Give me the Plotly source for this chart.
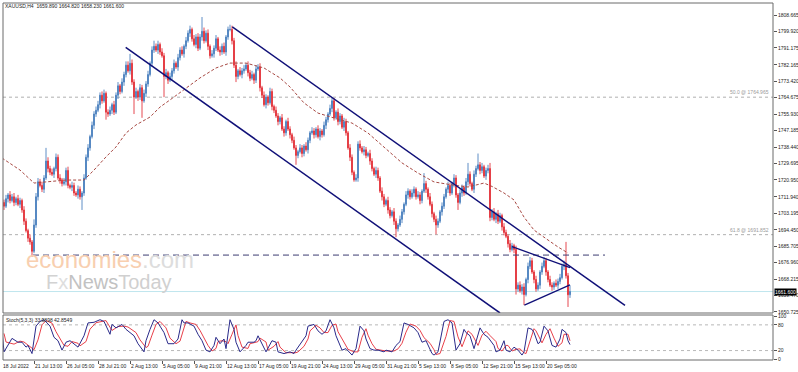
import plotly.graph_objects as go

# ---------------- data ----------------
first_open = 1710
closes = [
    1709,1707,1711,1713,1710,1712,1709,1711,1708,1710,1705,1699,1694,1690,1688,1683,1697,1712,1720,1718,
    1716,1722,1731,1727,1725,1724,1727,1733,1722,1721,1719,1720,1726,1718,1717,1718,1714,1713,1716,1712,
    1714,1722,1733,1738,1744,1750,1756,1758,1761,1766,1763,1767,1757,1756,1758,1761,1757,1766,1771,1768,
    1773,1777,1782,1779,1783,1773,1765,1768,1765,1770,1763,1767,1772,1777,1783,1790,1792,1790,1793,1789,
    1787,1776,1778,1774,1776,1779,1783,1781,1786,1790,1788,1792,1795,1799,1801,1796,1793,1797,1791,1797,
    1800,1795,1799,1792,1787,1788,1791,1796,1790,1789,1792,1789,1797,1801,1801,1795,1782,1776,1779,1777,
    1779,1780,1782,1778,1775,1777,1774,1780,1781,1770,1766,1761,1765,1762,1768,1760,1758,1755,1752,1754,
    1748,1746,1752,1748,1745,1742,1738,1734,1736,1738,1735,1739,1737,1742,1746,1747,1745,1748,1744,1747,
    1745,1750,1753,1756,1759,1763,1754,1757,1752,1755,1749,1752,1746,1738,1733,1725,1721,1722,1740,1738,
    1736,1737,1734,1735,1731,1727,1724,1726,1722,1715,1712,1708,1710,1705,1702,1704,1699,1695,1697,1700,
    1704,1708,1713,1715,1712,1714,1716,1712,1713,1710,1715,1719,1716,1712,1708,1703,1700,1697,1699,1704,
    1707,1712,1716,1718,1714,1719,1722,1713,1709,1714,1717,1714,1720,1724,1719,1716,1724,1727,1729,1726,
    1728,1723,1726,1727,1701,1704,1700,1703,1699,1702,1696,1693,1691,1687,1684,1686,1684,1663,1665,1662,
    1664,1660,1668,1675,1678,1672,1668,1663,1665,1672,1675,1678,1672,1668,1665,1664,1666,1665,1667,1669,
    1675,1676,1670,1659.89,1661.6,
]
upper_wick = [
    2,1.5,2,1,2,1.5,2,1,2,1.5,1,2,1.5,1,2,1,3,2,2,1.5,
    2,1.5,7,2,1.5,2,1,2,1.5,2,1,2,1.5,2,1,2,1.5,1,2,1.5,
    1,2,1.5,2,1,2,1.5,2,2,1.5,2,2,1,1.5,2,1,2,1.5,2,1,
    2,1.5,2,2,5,2,1.5,2,1,2,1.5,2,1.5,2,1,2,3,1.5,2,1,
    2,1.5,2,1,2,1.5,2,1,2,1.5,2,1,2,1.5,2,1,2,1.5,2,1.5,
    7.6,2,1.5,2,1,2,1.5,2,1,2,1.5,2,1,1.5,2.5,2,1.5,2,1,2,
    1.5,2,1,2,1.5,2,1,2,1.5,2,1,2,1.5,1,2,1.5,1,2,1.5,1,
    2,1.5,1,2,1.5,1,2,1.5,1,2,1.5,1,2,1.5,1,2,1.5,1,2,1.5,
    1,2,1.5,1,2,2,1.5,1,2,1.5,1,2,1.5,1,2,1.5,1,2,1.5,2,
    1,2,1.5,1,2,1.5,1,2,1.5,1,2,1.5,1,2,1.5,1,2,1.5,1,2,
    1.5,1,2,1.5,1,2,1.5,1,2,1.5,1,5.6,1.5,1,2,1.5,1,2,1.5,1,
    2,1.5,1,2,1.5,1,2,1.5,1,2,1.5,1,2,6,1.5,1,2,1.5,6,1.5,
    2,1,1.5,2,3,1.5,2,1,2,1.5,1,2,1.5,1,2,1.5,1,2,1.5,2,
    1.5,2,1,2,2,1.5,1,2,1.5,1,2,2,1.5,1,2,1.5,1,2,1.5,2,
    1.5,2,12,1.5,3.22,
]
lower_wick = [
    1.5,2,1,2,1.5,1,2,1.5,1,2,1.5,2,1,2,1.5,3,1,1.5,2,1,
    1.5,2,1,2,1.5,1,2,1.5,1,2,1.5,1,2,1.5,1,2,1.5,1,2,1.5,
    7,1.5,1,2,1.5,1,2,1.5,1,2,1.5,1,4,1.5,1,2,1.5,1,2,1.5,
    1,2,1.5,1,2,1.5,9,1,2,1.5,9,1,2,1.5,1,2,1.5,1,2,1.5,
    1,11,1.5,2,1,2,1.5,1,2,1.5,1,2,1.5,1,2,1.5,1,2,1.5,1,
    2,1.5,1,2,1.5,1,2,1.5,1,2,1.5,1,2,1.5,1,2,1.5,3,1.5,1,
    2,1.5,1,2,1.5,1,2,1.5,1,2,1.5,1,2,1.5,1,2,1.5,1,2,1.5,
    1,2,1.5,1,2,1.5,1,5,1.5,1,2,1.5,1,2,1.5,1,2,1.5,1,2,
    1.5,1,2,1.5,1,2,1.5,1,2,1.5,1,2,1.5,1,2,1.5,1,1,2,1.5,
    1,2,1.5,1,2,1.5,1,2,1.5,1,2,1.5,1,2,1.5,1,2,4.5,1.5,1,
    2,1.5,1,2,1.5,1,2,1.5,1,2,1.5,1,2,1.5,1,2,1.5,5,1.5,1,
    2,1.5,1,2,1.5,1,2,1.5,4,1,2,1.5,1,2,1.5,1,2,1.5,1,2,
    1.5,1,2,1.5,2,1.5,1,2,1.5,1,2,1.5,1,2,1.5,1,2,3,1.5,1,
    2,5.6,1,2,1.5,1,2,1.5,1,2,1.5,1,2,1.5,1,2,1.5,1,2,1.5,
    1,2,1.5,6.5,1.66,
]
assert len(closes) == len(upper_wick) == len(lower_wick) == 285

# moving average (dashed) read at sample bars
ma_bar = [0, 9, 16, 24, 32, 41, 46, 52, 57, 62, 67, 74, 79, 84, 91, 99, 107, 114, 122, 131,
          139, 144, 151, 158, 166, 175, 183, 191, 200, 208, 216, 225, 233, 241, 245, 251, 256,
          261, 266, 273, 278, 283]
ma_val = [1732.6, 1726.2, 1719.3, 1719.9, 1720.9, 1720.9, 1726.2, 1733.2, 1738.5, 1745.9,
          1750.2, 1754.4, 1759.7, 1763.5, 1768.8, 1775.2, 1780.5, 1783.1, 1783.1, 1780.5,
          1775.2, 1770.4, 1761.9, 1756.5, 1753.9, 1751.2, 1745.9, 1738.5, 1730.0, 1724.6,
          1719.9, 1718.3, 1717.2, 1719.3, 1717.5, 1714.0, 1710.3, 1701.2, 1694.3, 1689.0,
          1685.3, 1682.1]

# Stochastic (5,3,3): main line
k_bar = [0,1,5,8,10,12,13,15,17,19,21,24,26,28,30,32,34,37,38,41,43,46,49,51,52,54,55,57,60,62,
         66,68,71,72,74,76,78,81,83,86,88,90,91,93,96,98,100,102,104,106,107,109,111,112,114,116,
         117,119,122,123,126,127,128,131,132,135,137,138,141,144,146,147,150,152,153,156,158,160,
         162,164,166,167,170,172,175,177,179,181,182,184,186,188,191,192,195,197,199,201,203,206,
         208,210,212,213,215,216,218,221,223,225,227,229,231,232,234,236,237,239,241,243,246,247,
         249,251,252,254,256,258,260,261,263,265,266,268,269,271,273,275,277,279,280,282,283,284]
k_val = [66,17,48.5,39.5,39.5,28,32,13,77,88,92,77,51,43,21,39.5,43,32,28,54.5,84.5,86,92,88,77,
         58,81,73,81,69.5,54.5,36,17,43,69.5,92,84.5,62,36,36,47,92,84.5,84.5,77,58,43,21,17,32,51,
         36,47,24.5,92,69.5,39.5,17,32,39.5,39.5,43,54.5,24.5,17,43,39.5,17,13,17,13,21,39.5,54.5,
         77,81,66,58,66,92,73,54.5,21,24.5,9.5,24.5,77,66,47,24.5,21,21,17,21,17,32,41,84.5,81,73,
         62,39.5,43,32,13,9.5,17,88,92,84.5,21,36,69.5,62,54.5,24.5,39.5,73,58,51,32,17,21,43,21,
         17,28,21,9.5,17,73,69.5,62,36,39.5,77,66,32,28,47,69.5,62,43,33.99]
# Stochastic signal line
d_bar = [1,2,6,9,11,13,14,16,18,20,22,25,27,29,31,33,35,38,39,42,44,47,50,52,53,55,56,58,61,63,
         67,69,72,73,75,77,79,82,84,87,89,91,92,94,97,99,101,103,105,107,108,110,112,113,115,117,
         118,120,123,124,127,128,129,132,133,136,138,139,142,145,147,148,151,153,154,157,159,161,
         163,165,167,168,171,173,176,178,180,182,183,185,187,189,192,193,196,198,200,202,204,207,
         209,211,213,214,216,217,219,222,224,226,228,230,232,233,235,237,238,240,242,244,247,248,
         250,252,253,255,257,259,261,262,264,266,267,269,270,272,274,276,278,280,281,283,284]
d_val = [60,40,35,42,40,33,30,22,45,80,90,84,64,47,32,30,41,37,31,41,70,85,89,90,82,67,70,76,77,75,
         62,45,27,30,56,81,88,73,49,36,42,70,88,84.5,81,67,50,32,19,25,41,43,41,36,58,80,55,28,25,
         36,39.5,41,49,40,21,30,41,28,15,15,15,17,30,47,66,79,73,62,62,79,82,64,38,23,17,17,51,71,
         56,36,23,21,19,19,19,24,37,63,82,77,67,50,41,37,22,11,13,53,90,88,52,29,53,66,58,40,32,56,
         65,55,41,25,19,32,32,19,23,24,15,13,45,71,66,49,38,58,71,49,30,38,58,58,42.85]

price_ticks = [1808.665, 1799.920, 1791.175, 1782.165, 1773.420, 1764.675, 1755.930, 1747.185,
               1738.440, 1729.695, 1720.950, 1711.940, 1703.195, 1694.450, 1685.705, 1676.960,
               1668.215, 1659.470, 1650.725]
time_labels = ["18 Jul 2022", "21 Jul 13:00", "26 Jul 05:00", "28 Jul 21:00", "2 Aug 13:00",
               "5 Aug 05:00", "9 Aug 21:00", "12 Aug 13:00", "17 Aug 05:00", "19 Aug 21:00",
               "24 Aug 13:00", "29 Aug 05:00", "31 Aug 21:00", "5 Sep 13:00", "8 Sep 05:00",
               "12 Sep 21:00", "15 Sep 13:00", "20 Sep 05:00"]
label_step = 16

fib_levels = [(1764.965, "50.0 @ 1764.965"), (1691.852, "61.8 @ 1691.852")]
last_price = 1661.600
support_level = 1681.0
channel_upper = [(115.15, 1802.4), (311.5, 1654.2)]
channel_lower = [(61.85, 1791.5), (249.0, 1650.2)]
tri_upper = [(255.0, 1685.5), (284.0, 1674.3)]
tri_lower = [(261.2, 1654.4), (284.0, 1665.1)]
support_span = (15.5, 301.5)

# ---------------- derived OHLC ----------------
bars = list(range(len(closes)))
opens = [first_open] + closes[:-1]
highs = [max(o, c) + w for o, c, w in zip(opens, closes, upper_wick)]
lows = [min(o, c) - w for o, c, w in zip(opens, closes, lower_wick)]

UP = "#4d82bf"
DOWN = "#e3343c"
NAVY = "#101078"
FONT = "Liberation Sans"

W, H = 798, 372
X_RANGE = [0.5, 385.5]
def px(xp):
    return xp / W
def py(yp):
    return 1 - yp / H

XD = [px(3), px(773)]
Y1D = [py(313), py(3)]
Y2D = [py(360), py(315)]

def bar_to_paper(b):
    return XD[0] + (b - X_RANGE[0]) / (X_RANGE[1] - X_RANGE[0]) * (XD[1] - XD[0])

fig = go.Figure()
fig.add_trace(go.Candlestick(
    x=bars, open=opens, high=highs, low=lows, close=closes,
    increasing=dict(line=dict(color=UP, width=0.9), fillcolor=UP),
    decreasing=dict(line=dict(color=DOWN, width=0.9), fillcolor=DOWN),
    whiskerwidth=0, hoverinfo="skip", showlegend=False, xaxis="x", yaxis="y"))
fig.add_trace(go.Scatter(
    x=ma_bar, y=ma_val, mode="lines", line=dict(color="#a84a44", width=1, dash="3px,2px"),
    hoverinfo="skip", showlegend=False, xaxis="x", yaxis="y"))
fig.add_trace(go.Scatter(
    x=d_bar, y=d_val, mode="lines", line=dict(color="#e8404a", width=1),
    hoverinfo="skip", showlegend=False, xaxis="x", yaxis="y2"))
fig.add_trace(go.Scatter(
    x=k_bar, y=k_val, mode="lines", line=dict(color="#2a2a8a", width=1),
    hoverinfo="skip", showlegend=False, xaxis="x", yaxis="y2"))

shapes = []
for lvl, _ in fib_levels:
    shapes.append(dict(type="line", xref="paper", yref="y", x0=XD[0], x1=XD[1], y0=lvl, y1=lvl,
                       line=dict(color="#b0b0b0", width=1, dash="dot"), layer="below"))
shapes.append(dict(type="line", xref="paper", yref="y", x0=XD[0], x1=XD[1], y0=last_price,
                   y1=last_price, line=dict(color="#bfe6ee", width=1), layer="below"))
shapes.append(dict(type="line", xref="x", yref="y", x0=support_span[0], x1=support_span[1],
                   y0=support_level, y1=support_level,
                   line=dict(color="#3c3c70", width=1, dash="6px,4px")))
for seg, wdt in [(channel_upper, 1.5), (channel_lower, 1.5), (tri_upper, 1.3), (tri_lower, 1.3)]:
    shapes.append(dict(type="line", xref="x", yref="y", x0=seg[0][0], y0=seg[0][1],
                       x1=seg[1][0], y1=seg[1][1], line=dict(color=NAVY, width=wdt)))
for lv in (80, 20):
    shapes.append(dict(type="line", xref="paper", yref="y2", x0=XD[0], x1=XD[1], y0=lv, y1=lv,
                       line=dict(color="#b8b8b8", width=1, dash="dot"), layer="below"))
for yd in (Y1D, Y2D):
    shapes.append(dict(type="rect", xref="paper", yref="paper", x0=XD[0], x1=XD[1],
                       y0=yd[0], y1=yd[1], line=dict(color="#6a6a6a", width=1),
                       fillcolor="rgba(0,0,0,0)"))

ann = []
ann.append(dict(xref="paper", yref="paper", x=px(3), y=py(6), xanchor="left", yanchor="middle",
                text="XAUUSD,H4  1659.890 1664.820 1658.230 1661.600", showarrow=False,
                font=dict(size=5, color="#222", family=FONT)))
ann.append(dict(xref="paper", yref="paper", x=px(4), y=py(319.5), xanchor="left",
                yanchor="middle", text="Stoch(5,3,3) 33.9898 42.8549", showarrow=False,
                font=dict(size=5, color="#222", family=FONT)))
for lvl, txt in fib_levels:
    ann.append(dict(xref="paper", yref="y", x=px(771), y=lvl, xanchor="right", yanchor="bottom",
                    text=txt, showarrow=False, font=dict(size=5, color="#9a9a9a", family=FONT)))
for k, lab in enumerate(time_labels):
    ann.append(dict(xref="paper", yref="paper", x=bar_to_paper(k * label_step - 0.4),
                    y=py(366), xanchor="left", yanchor="middle", text=lab, showarrow=False,
                    font=dict(size=5, color="#222", family=FONT)))
ann.append(dict(xref="paper", yref="y", x=px(774), y=last_price, xanchor="left",
                yanchor="middle", text="1661.600", showarrow=False, bgcolor="#000000",
                borderpad=0, font=dict(size=5, color="#ffffff", family=FONT)))
ann.append(dict(xref="paper", yref="paper", x=px(24), y=py(259), xanchor="left",
                yanchor="middle", showarrow=False,
                text='<span style="color:#f8cfb0">economies</span><span style="color:#dddddd">.com</span>',
                font=dict(size=24, family=FONT)))
ann.append(dict(xref="paper", yref="paper", x=px(44), y=py(282), xanchor="left",
                yanchor="middle", showarrow=False,
                text='<span style="color:#d2d2d2">F</span><span style="color:#dedede">x</span>'
                     '<span style="color:#c2c2c2">News</span><span style="color:#d0d0d0">Today</span>',
                font=dict(size=20, family=FONT)))

fig.update_layout(
    width=W, height=H, margin=dict(l=0, r=0, t=0, b=0),
    paper_bgcolor="white", plot_bgcolor="white",
    font=dict(family=FONT, size=5, color="#222"),
    showlegend=False,
    xaxis=dict(domain=XD, range=X_RANGE, anchor="y2", showgrid=False, zeroline=False,
               tickvals=[k * label_step for k in range(len(time_labels))],
               ticks="outside", ticklen=3, tickcolor="#555", showticklabels=False,
               rangeslider=dict(visible=False), fixedrange=True),
    yaxis=dict(domain=Y1D, range=[1650.19, 1815.05], side="right", anchor="x",
               tickvals=price_ticks, ticktext=[f"{v:.3f}" for v in price_ticks],
               ticks="outside", ticklen=3, tickcolor="#555", showgrid=False, zeroline=False,
               tickfont=dict(size=5, color="#222", family=FONT), automargin=False),
    yaxis2=dict(domain=Y2D, range=[-2, 103], side="right", anchor="x",
                tickvals=[0, 20, 80, 100], ticktext=["0", "20", "80", "100"],
                ticks="outside", ticklen=3, tickcolor="#555", showgrid=False, zeroline=False,
                tickfont=dict(size=5, color="#222", family=FONT), automargin=False),
    shapes=shapes, annotations=ann,
)

fig.write_html(
    "out.html",
    config={"displayModeBar": False},
    post_script="document.body.style.margin='0';document.body.style.overflow='hidden';",
)
